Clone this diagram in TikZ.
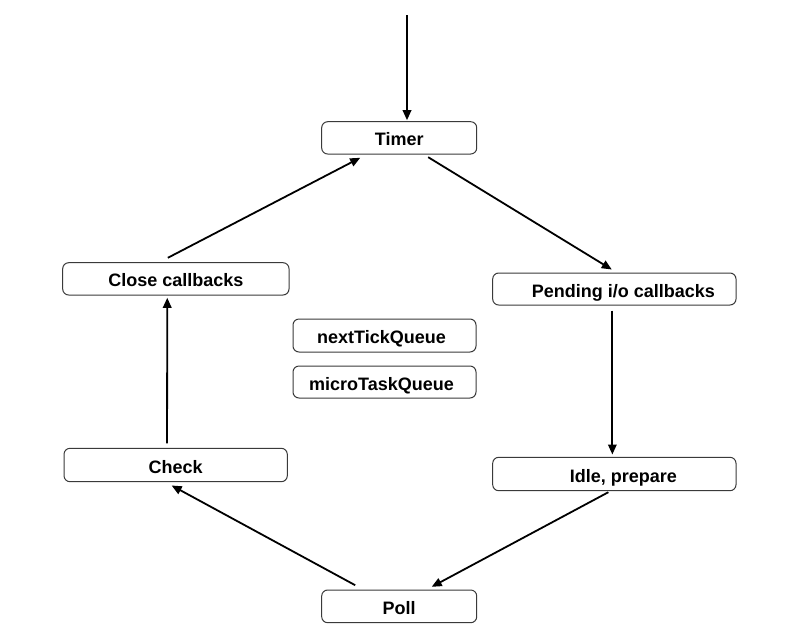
\documentclass[tikz,border=0pt]{standalone}
\usepackage{fontspec}
\setmainfont{Liberation Sans}
\usetikzlibrary{arrows.meta}
\definecolor{boxline}{HTML}{3A3A3A}
\tikzset{
  stagebox/.style={draw=boxline, line width=1pt, rounded corners=6pt, fill=white,
    inner sep=0pt, text height=17pt, text depth=1pt,
    font=\fontsize{18}{20}\selectfont\bfseries, text=black},
  flow/.style={draw=black, line width=1.8pt, -{Triangle[length=10pt,width=8.5pt]}}
}
\begin{document}
\begin{tikzpicture}[x=1pt,y=-1pt]
\useasboundingbox (0,0) rectangle (805,643);
\node[stagebox, minimum width=155pt, minimum height=32.3pt] (timer) at (399.2,137.85) {Timer};
\node[stagebox, minimum width=243.3pt, minimum height=32pt] (pending) at (614.35,289) {\hspace*{18pt}Pending i/o callbacks};
\node[stagebox, minimum width=183pt, minimum height=33pt] (next) at (384.5,335.5) {\hspace*{-6pt}nextTickQueue};
\node[stagebox, minimum width=183pt, minimum height=32pt] (micro) at (384.5,382) {\hspace*{-6pt}microTaskQueue};
\node[stagebox, minimum width=226.3pt, minimum height=32.3pt] (close) at (175.85,278.85) {Close callbacks};
\node[stagebox, minimum width=223.3pt, minimum height=33.4pt] (check) at (175.65,465) {Check};
\node[stagebox, minimum width=243.3pt, minimum height=33.4pt] (idle) at (614.35,474) {\hspace*{18pt}Idle, prepare};
\node[stagebox, minimum width=155pt, minimum height=32.7pt] (poll) at (399.2,606.35) {Poll};
\coordinate (entry) at (407,15);
\draw[flow] (entry) -- ([xshift=7.8pt,yshift=1pt]timer.north);
\draw[flow] ([xshift=29pt,yshift=-2.7pt]timer.south) -- ([xshift=-2.6pt,yshift=3pt]pending.north);
\draw[flow] ([xshift=-2pt,yshift=-5pt]pending.south) -- ([xshift=-2pt,yshift=2.3pt]idle.north);
\draw[flow] ([xshift=-6pt,yshift=-1pt]idle.south) -- ([xshift=32.5pt,yshift=2.7pt]poll.north);
\draw[flow] ([xshift=-44pt,yshift=4.3pt]poll.north) -- ([xshift=-4pt,yshift=-3.3pt]check.south);
\draw[flow] ([xshift=-8.6pt,yshift=4.5pt]check.north) -- ([xshift=-8.6pt,yshift=-2.3pt]close.south);
\draw[flow] ([xshift=-8pt,yshift=4.4pt]close.north) -- ([xshift=-39pt,yshift=-3.3pt]timer.south);
\end{tikzpicture}
\end{document}
